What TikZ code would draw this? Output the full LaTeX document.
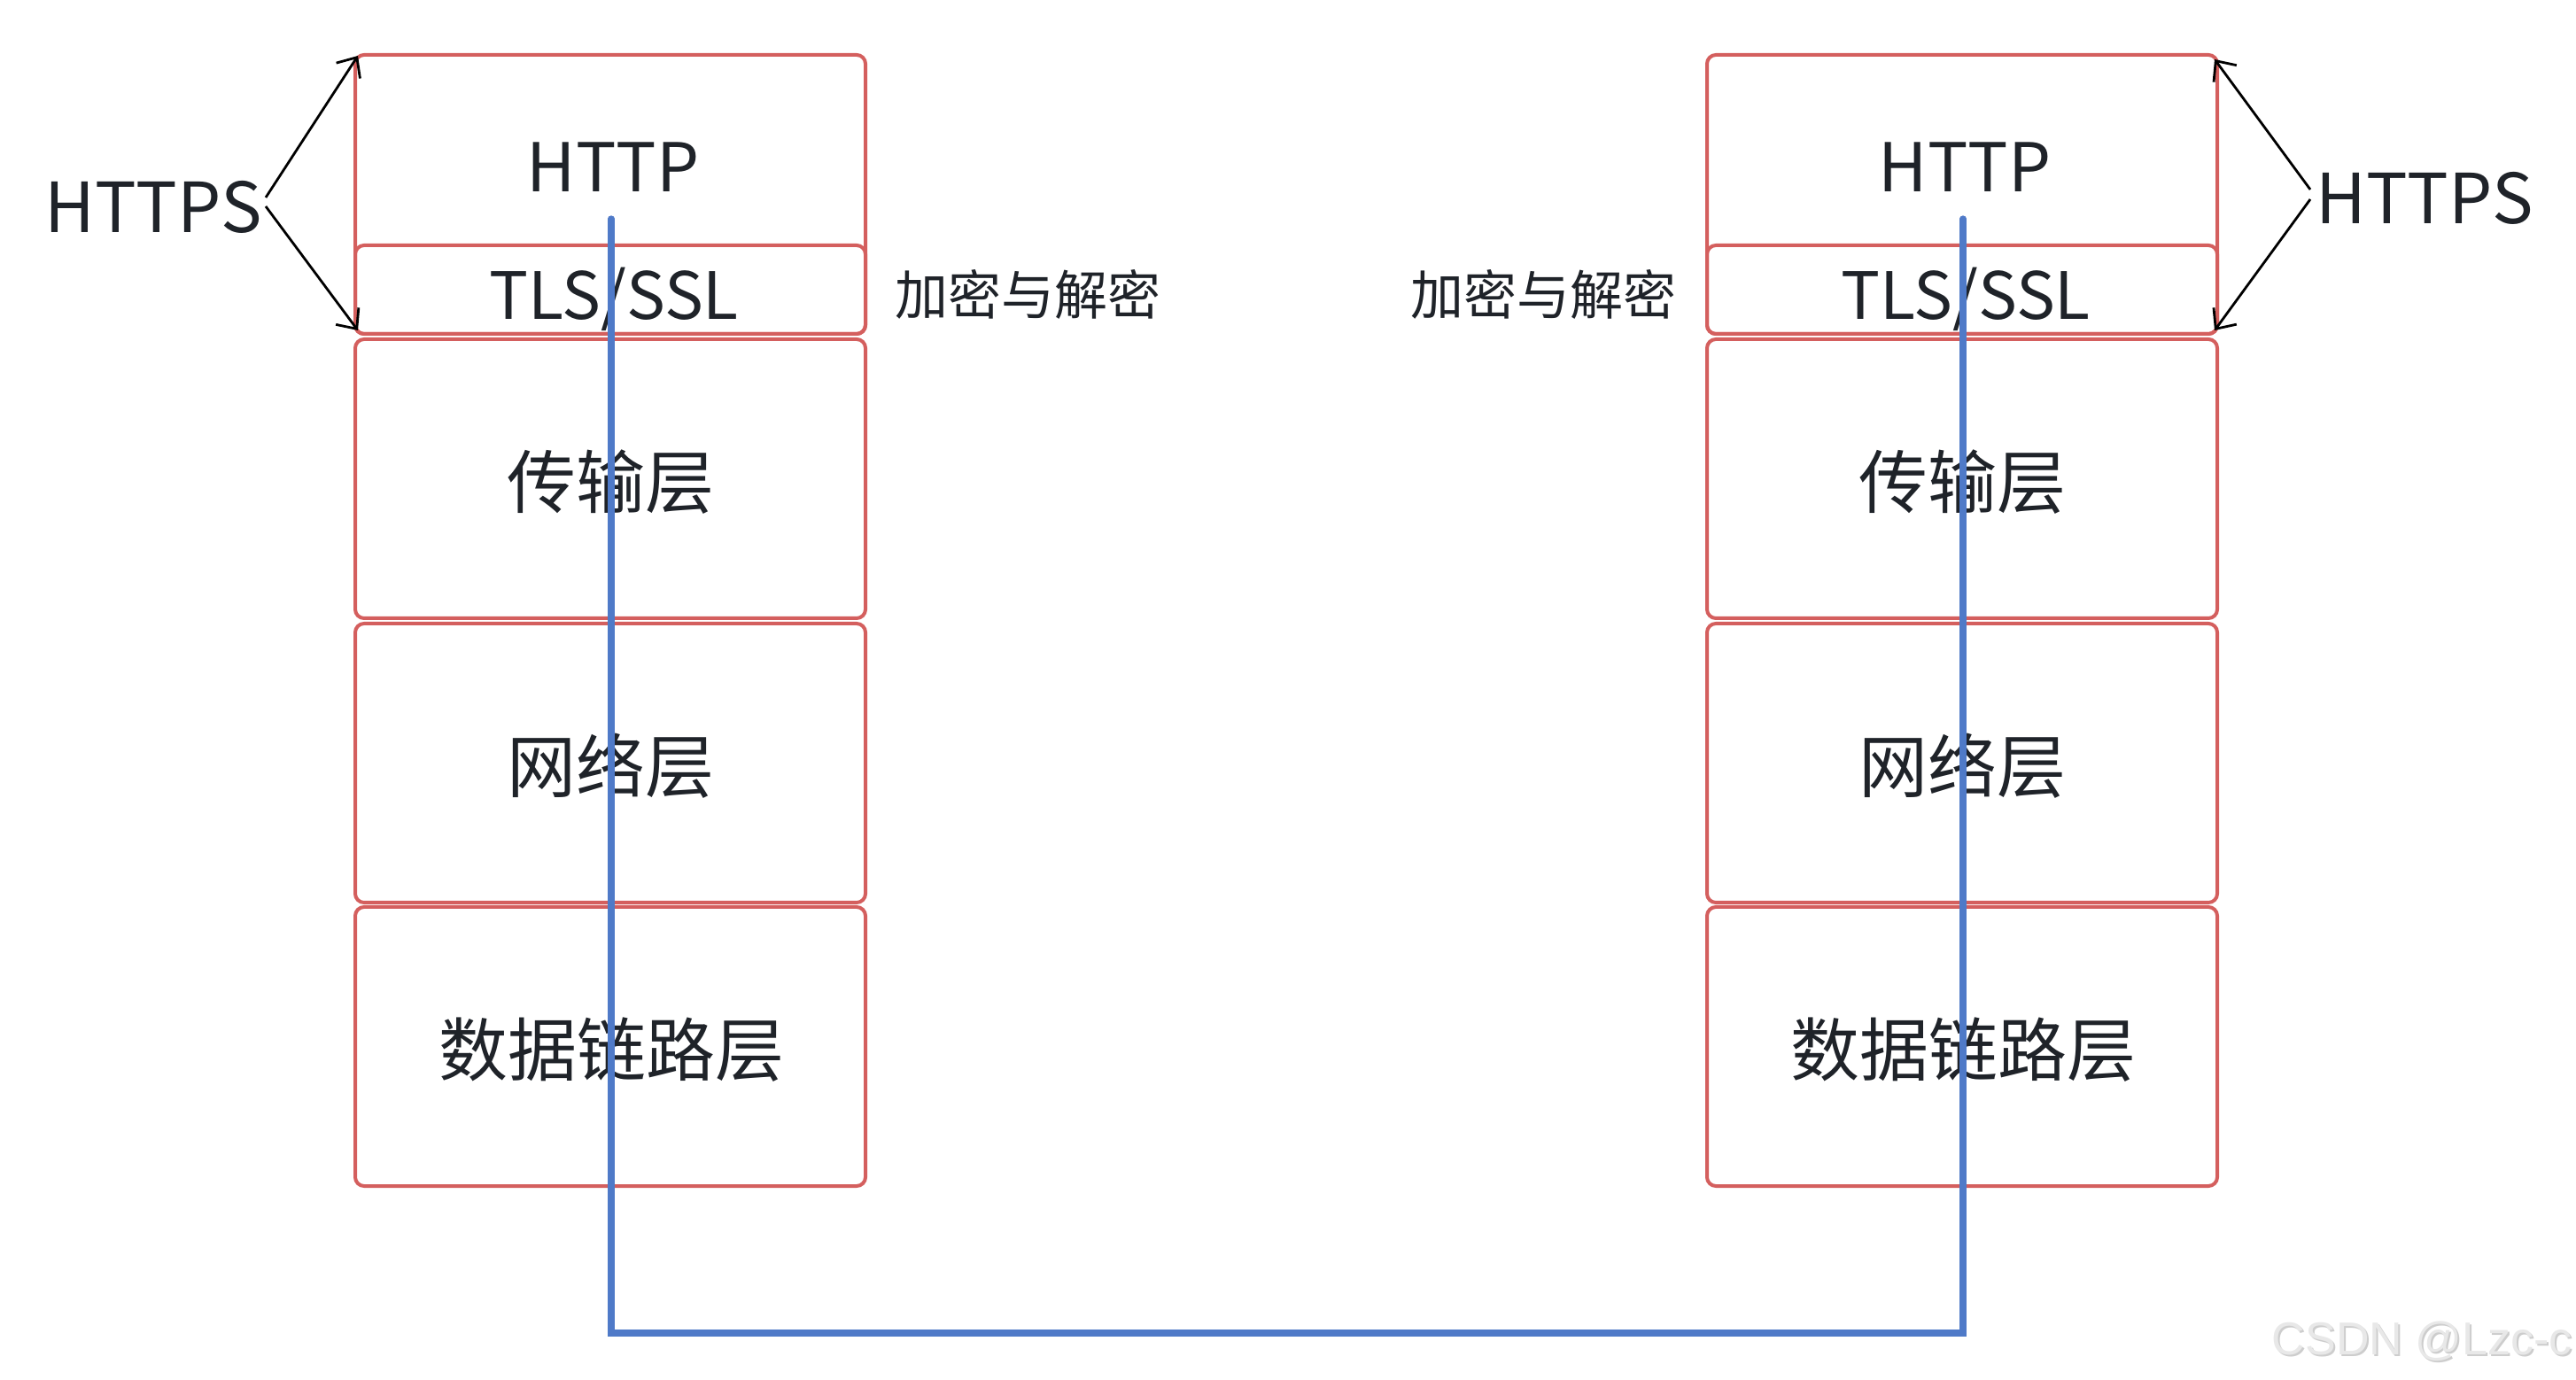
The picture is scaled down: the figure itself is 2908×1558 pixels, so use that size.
\documentclass[tikz,border=0pt]{standalone}
\usepackage{fontspec}
\setmainfont{Noto Sans CJK SC}
\newfontfamily\wmfont{Liberation Sans}
\usetikzlibrary{arrows.meta}
\definecolor{boxred}{HTML}{D45F5E}
\definecolor{linkblue}{HTML}{4F7AC8}
\definecolor{ink}{HTML}{1F2329}
\definecolor{wmlight}{HTML}{E8E8E8}
\definecolor{wmdark}{HTML}{CDCDCD}
\begin{document}
\begin{tikzpicture}[x=0.25pt,y=-0.25pt,
  layer/.style={draw=boxred, line width=1pt, rounded corners=2.5pt, minimum width=144pt, inner sep=0pt},
  big/.style={text=ink, font=\fontsize{19.5}{22}\selectfont, inner sep=0pt},
  latin/.style={text=ink, font=\fontsize{19}{22}\selectfont, inner sep=0pt},
  small/.style={text=ink, font=\fontsize{15}{17}\selectfont, inner sep=0pt},
  ptr/.style={draw=black, line width=0.7pt, -{Straight Barb[length=4.5pt,width=8pt]}},
  link/.style={draw=linkblue, line width=1.8pt, line cap=round, line join=miter},
  wm/.style={font=\wmfont\fontsize{13}{16}\selectfont, inner sep=0pt, anchor=base west}]
\useasboundingbox (0,0) rectangle (2908,1558);

% ---------- left stack ----------
\node[layer, minimum height=78.75pt] (httpL) at (689,219.5) {};
\node[layer, minimum height=25pt]    (tlsL)  at (689,327) {};
\node[layer, minimum height=78.75pt] (tcpL)  at (689,540.5) {};
\node[layer, minimum height=78.75pt] (ipL)   at (689,861.5) {};
\node[layer, minimum height=78.75pt] (dlL)   at (689,1181.5) {};

\node[latin, anchor=base] (httptL) at (692,217) {HTTP};
\node[latin, anchor=base, font=\fontsize{18.4}{22}\selectfont] (tlstL)  at (693,361) {TLS/SSL};
\node[big] (tcptL) at (689,544) {传输层};
\node[big] (iptL)  at (689,865) {网络层};
\node[big] (dltL)  at (690,1185) {数据链路层};

% ---------- right stack ----------
\node[layer, minimum height=78.75pt] (httpR) at (2215,219.5) {};
\node[layer, minimum height=25pt]    (tlsR)  at (2215,327) {};
\node[layer, minimum height=78.75pt] (tcpR)  at (2215,540.5) {};
\node[layer, minimum height=78.75pt] (ipR)   at (2215,861.5) {};
\node[layer, minimum height=78.75pt] (dlR)   at (2215,1181.5) {};

\node[latin, anchor=base] (httptR) at (2218,217) {HTTP};
\node[latin, anchor=base, font=\fontsize{18.4}{22}\selectfont] (tlstR)  at (2219,361) {TLS/SSL};
\node[big] (tcptR) at (2215,544) {传输层};
\node[big] (iptR)  at (2215,865) {网络层};
\node[big] (dltR)  at (2216,1185) {数据链路层};

% ---------- side labels ----------
\node[big, anchor=base] (httpsL) at (173,263) {HTTPS};
\node[big, anchor=base] (httpsR) at (2737,253) {HTTPS};
\node[small] (encL) at (1160,333) {加密与解密};
\node[small] (encR) at (1742,333) {加密与解密};

% ---------- HTTPS arrows ----------
\coordinate (lA1) at (300,223);
\coordinate (lT1) at (404,63);
\coordinate (lA2) at (300,233);
\coordinate (lT2) at (404,373);
\coordinate (rA1) at (2608,214);
\coordinate (rT1) at (2500,67);
\coordinate (rA2) at (2608,225);
\coordinate (rT2) at (2500,373);
\draw[ptr] (lA1) -- (lT1);
\draw[ptr] (lA2) -- (lT2);
\draw[ptr] (rA1) -- (rT1);
\draw[ptr] (rA2) -- (rT2);

% ---------- blue link ----------
\coordinate (bL)  at (690,247);
\coordinate (bBL) at (690,1505);
\coordinate (bBR) at (2216,1505);
\coordinate (bR)  at (2216,247);
\draw[link] (bL) -- (bBL) -- (bBR) -- (bR);

% ---------- watermark ----------
\node[wm, text=wmdark]  (wmshadow) at (2566,1531) {CSDN @Lzc-c};
\node[wm, text=wmlight] (wmtext)   at (2564,1529) {CSDN @Lzc-c};
\end{tikzpicture}
\end{document}
